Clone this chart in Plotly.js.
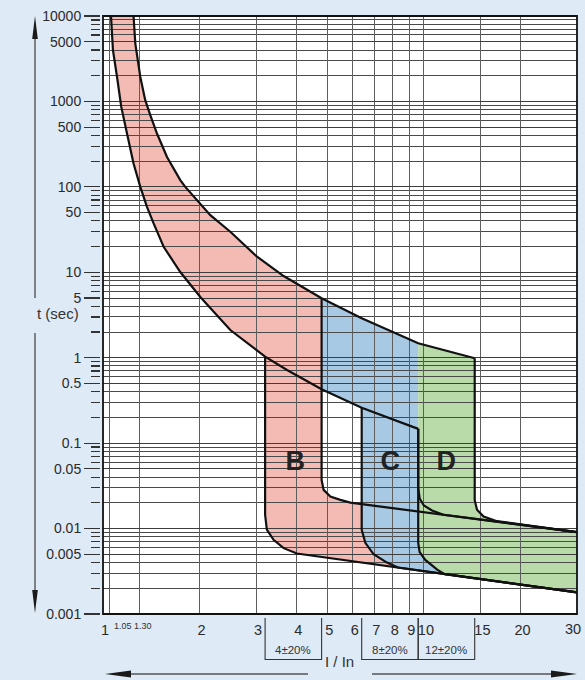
<!DOCTYPE html>
<html><head><meta charset="utf-8">
<script src="https://cdn.plot.ly/plotly-3.0.1.min.js"></script>
<style>html,body{margin:0;padding:0;background:#deeaf6;} #chart{width:585px;height:680px;}</style>
</head><body><div id="chart"></div>
<script>
// ---- data ----
const upperI = [1.245,1.261,1.307,1.354,1.404,1.473,1.583,1.741,1.805,1.963,2.16,2.493,3.02,3.655,4.8,6.4,9.6,14.4];
const upperT = [10000,4755,1934,1033,690,421,224,120,100,69.9,46.7,29.8,15.2,9.03,4.96,2.89,1.475,0.985];
const lowerI = [1.059,1.074,1.106,1.14,1.188,1.245,1.307,1.371,1.438,1.545,1.741,2.01,2.493,3.02,3.2,3.745,4.8,6.4,9.6];
const lowerT = [10000,3972,1934,863,421,188,100,58.4,37.3,19.9,10.06,5.13,2.11,1.23,1.03,0.719,0.427,0.26,0.147];
const bLeftI  = [3.2,3.2,3.24,3.40,3.655,4.02,30];
const bLeftT  = [1.03,0.0145,0.0097,0.0074,0.0059,0.0051,0.00179];
const bRightI = [4.8,4.8,4.87,5.11,5.49,5.9,30];
const bRightT = [4.96,0.037,0.0284,0.0237,0.0217,0.0201,0.00908];
const cLeftI  = [6.4,6.4,6.57,6.97,7.67,8.3,30];
const cLeftT  = [0.26,0.0097,0.0068,0.0050,0.0040,0.0035,0.00179];
const cRightI = [9.6,9.6,9.7,10.0,10.6,11.5,30];
const cRightT = [0.147,0.03,0.0225,0.0186,0.0163,0.0145,0.00908];
const dLeftI  = [9.6,9.6,9.7,10.1,11.0,11.6,30];
const dLeftT  = [0.147,0.0068,0.0053,0.0043,0.0033,0.00293,0.00179];
const dRightI = [14.4,14.4,14.64,15.35,16.9,30];
const dRightT = [0.985,0.0215,0.0166,0.0138,0.0122,0.00908];
const bandLabels = ['B','C','D'];
const bandLabelI = [3.975,7.86,11.75];
const bandLabelT = [0.058,0.058,0.058];
const bandColors = ['#f4bbb4','#a7c9e4','#b9daa9'];
const xTickVals = [1,1.05,1.3,2,3,4,5,6,7,8,9,10,15,20,30];
const xTickText = ['1','','','2','3','4','5','6','7','8','9','10','15','20','30'];
const smallXVals = [1.05,1.3];
const smallXText = ['1.05','1.30'];
const yMajorVals = [0.001,0.005,0.01,0.05,0.1,0.5,1,5,10,50,100,500,1000,5000,10000];
const yMajorText = ['0.001','0.005','0.01','0.05','0.1','0.5','1','5','10','50','100','500','1000','5000','10000'];
const yMinorVals = [0.002,0.003,0.004,0.006,0.007,0.008,0.009,
  0.02,0.03,0.04,0.06,0.07,0.08,0.09,
  0.2,0.3,0.4,0.6,0.7,0.8,0.9,
  2,3,4,6,7,8,9,
  20,30,40,60,70,80,90,
  200,300,400,600,700,800,900,
  2000,3000,4000,6000,7000,8000,9000];
const bracketLo = [3.2,6.4,9.6];
const bracketHi = [4.8,9.6,14.4];
const bracketText = ['4±20%','8±20%','12±20%'];

// ---- layout geometry ----
const W=585,H=680,ML=100,MR=8,MT=16,MB=66;
const PW=W-ML-MR, PH=H-MT-MB;
const px2x = p => (p-ML)/PW;
const px2y = p => (H-MB-p)/PH;
const dom0 = 3/PW;
const FONT = 'Liberation Sans, Arial, sans-serif';

function seg(I,T,lo,hi){const xs=[],ys=[];I.forEach((v,i)=>{if(v>=lo-1e-9&&v<=hi+1e-9){xs.push(v);ys.push(T[i]);}});return [xs,ys];}
const rev = a => a.slice().reverse();

const [loB_I,loB_T] = seg(lowerI,lowerT,0,3.2);
const [upB_I,upB_T] = seg(upperI,upperT,0,4.8);
const [upC_I,upC_T] = seg(upperI,upperT,4.8,9.6);
const [loC_I,loC_T] = seg(lowerI,lowerT,4.8,6.4);
const [upD_I,upD_T] = seg(upperI,upperT,9.6,14.4);

const polys = [
  [[...loB_I,...bLeftI,...rev(bRightI),...rev(upB_I)],[...loB_T,...bLeftT,...rev(bRightT),...rev(upB_T)]],
  [[...upC_I,...cRightI,...rev(cLeftI),...rev(loC_I)],[...upC_T,...cRightT,...rev(cLeftT),...rev(loC_T)]],
  [[...upD_I,...dRightI,...rev(dLeftI)],[...upD_T,...dRightT,...rev(dLeftT)]]
];

const traces = [];
polys.forEach((p,i)=>traces.push({type:'scatter',mode:'lines',x:p[0],y:p[1],fill:'toself',fillcolor:bandColors[i],line:{width:0},xaxis:'x',yaxis:'y',hoverinfo:'skip',showlegend:false}));
const outlines = [[upperI,upperT],[lowerI,lowerT],[bLeftI,bLeftT],[bRightI,bRightT],[cLeftI,cLeftT],[cRightI,cRightT],[dLeftI,dLeftT],[dRightI,dRightT]];
outlines.forEach(o=>traces.push({type:'scatter',mode:'lines',x:o[0],y:o[1],line:{color:'#111',width:2.2},xaxis:'x2',yaxis:'y2',hoverinfo:'skip',showlegend:false}));
traces.push({type:'scatter',mode:'text',x:bandLabelI,y:bandLabelT,text:bandLabels.map(s=>'<b>'+s+'</b>'),textfont:{family:FONT,size:27,color:'#222'},textposition:'middle center',xaxis:'x2',yaxis:'y2',hoverinfo:'skip',showlegend:false});

const shapes = [
  {type:'rect',xref:'x domain',yref:'y domain',x0:0,x1:1,y0:0,y1:1,fillcolor:'#ffffff',line:{width:0},layer:'below'},
  {type:'rect',xref:'x2 domain',yref:'y2 domain',x0:0,x1:1,y0:0,y1:1,line:{color:'#111',width:1.8},layer:'above'}
];
// brackets
bracketLo.forEach((lo,i)=>{
  const hi=bracketHi[i];
  [lo,hi].forEach(v=>shapes.push({type:'line',xref:'x2',yref:'paper',x0:v,x1:v,y0:px2y(618),y1:px2y(660),line:{color:'#333',width:1.1}}));
  shapes.push({type:'line',xref:'x2',yref:'paper',x0:lo,x1:hi,y0:px2y(659.5),y1:px2y(659.5),line:{color:'#333',width:1.1}});
});
// arrows
function stem(x0,y0,x1,y1){shapes.push({type:'line',xref:'paper',yref:'paper',x0:px2x(x0),y0:px2y(y0),x1:px2x(x1),y1:px2y(y1),line:{color:'#555',width:1.4}});}
function head(pts){shapes.push({type:'path',xref:'paper',yref:'paper',path:'M'+pts.map(p=>px2x(p[0]).toFixed(5)+','+px2y(p[1]).toFixed(5)).join(' L')+' Z',fillcolor:'#1a1a1a',line:{width:0}});}
stem(35,38,35,298); head([[35,16],[32.2,39],[37.8,39]]);
stem(35,333,35,592); head([[35,613],[32.2,590],[37.8,590]]);
stem(130,674,308,674); head([[105,674],[131,670.5],[131,677.5]]);
stem(372,674,552,674); head([[577,674],[551,670.5],[551,677.5]]);

// the last x tick label sits at the right edge: draw it right-aligned so it stays inside the page
const nX = xTickVals.length;
const xTickTextAxis = xTickText.map((t,i)=> i===nX-1 ? '' : t);

const annotations = [
  {xref:'paper',yref:'paper',x:px2x(35),y:px2y(313),text:'t (sec)',showarrow:false,font:{family:FONT,size:15,color:'#333'}},
  {xref:'paper',yref:'paper',x:px2x(339.5),y:px2y(672),text:'I / In',showarrow:false,font:{family:FONT,size:15,color:'#333'}},
  {xref:'x2',yref:'paper',x:Math.log10(xTickVals[nX-1]),y:px2y(629),yanchor:'middle',text:xTickText[nX-1],showarrow:false,xanchor:'right',xshift:6,font:{family:FONT,size:14.5,color:'#2b2b2b'}}
];
smallXVals.forEach((v,i)=>annotations.push({xref:'x2',yref:'paper',x:Math.log10(v),y:px2y(626),yanchor:'middle',text:smallXText[i],showarrow:false,xanchor:i===0?'left':'center',xshift:i===0?2:3,font:{family:FONT,size:9,color:'#333'}}));
bracketLo.forEach((lo,i)=>annotations.push({xref:'x2',yref:'paper',x:(Math.log10(lo)+Math.log10(bracketHi[i]))/2,y:px2y(649.5),yanchor:'middle',text:bracketText[i],showarrow:false,font:{family:FONT,size:11.5,color:'#333'}}));

const xr=[0,Math.log10(30)], yr=[-3,4];
const layout = {
  width:W,height:H,margin:{l:ML,r:MR,t:MT,b:MB},
  paper_bgcolor:'#deeaf6',plot_bgcolor:'rgba(0,0,0,0)',
  font:{family:FONT,color:'#333'},
  showlegend:false,hovermode:false,
  xaxis:{type:'log',range:xr,domain:[dom0,1],anchor:'y',visible:false,fixedrange:true},
  yaxis:{type:'log',range:yr,domain:[0,1],anchor:'x',visible:false,fixedrange:true},
  xaxis2:{type:'log',range:xr,domain:[dom0,1],anchor:'y2',tickmode:'array',tickvals:xTickVals,ticktext:xTickTextAxis,ticks:'',
    showgrid:true,gridcolor:'#5e5e5e',gridwidth:1.2,showline:false,zeroline:false,
    tickfont:{family:FONT,size:14.5,color:'#2b2b2b'},ticklabelshift:2,ticklabelstandoff:5,fixedrange:true},
  yaxis2:{type:'log',range:yr,domain:[0,1],anchor:'free',position:0,tickmode:'array',tickvals:yMajorVals,ticktext:yMajorText,
    ticks:'outside',ticklen:16,tickwidth:1.2,tickcolor:'#333',showgrid:true,gridcolor:'#3d3d3d',gridwidth:1,
    minor:{tickmode:'array',tickvals:yMinorVals,ticks:'outside',ticklen:9,tickwidth:1.2,tickcolor:'#333',showgrid:true,gridcolor:'#4a4a4a',gridwidth:1},
    showline:false,zeroline:false,tickfont:{family:FONT,size:14,color:'#2b2b2b'},fixedrange:true},
  shapes:shapes,annotations:annotations
};
Plotly.newPlot('chart',traces,layout,{displayModeBar:false,staticPlot:true});
</script></body></html>
